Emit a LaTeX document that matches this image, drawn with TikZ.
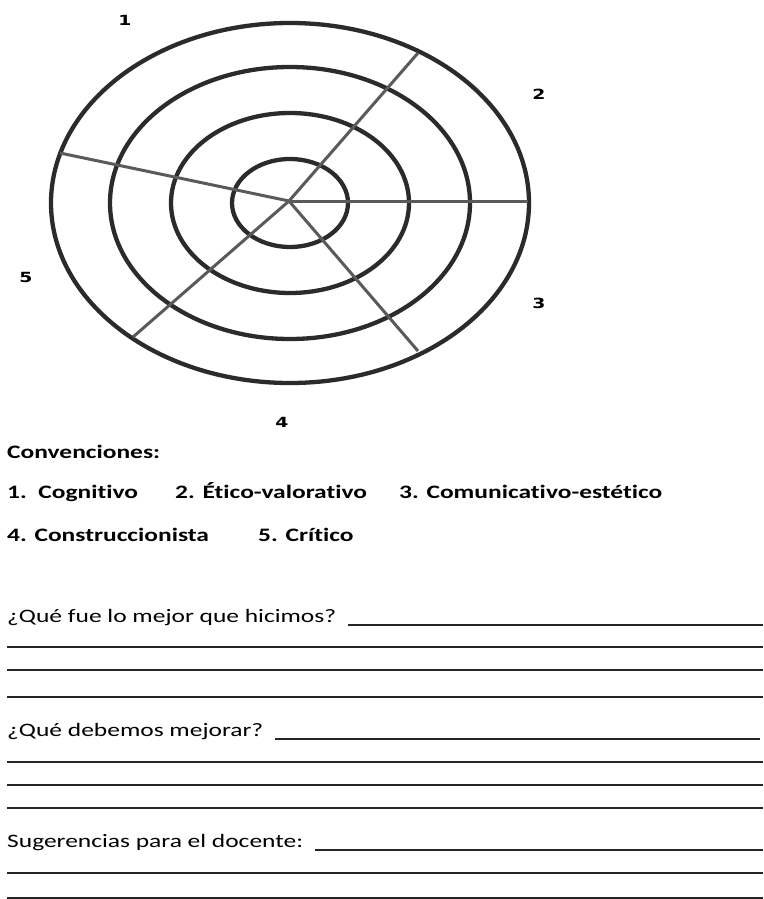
\documentclass[tikz,border=0pt]{standalone}
\usepackage{fontspec}
\setmainfont{Carlito}[FakeStretch=1.34, Ligatures=NoCommon]
\newfontfamily\digitfont{DejaVu Sans}[FakeStretch=1.34]
\usetikzlibrary{positioning}
\definecolor{RingGray}{HTML}{2B2B2B}
\definecolor{SpokeGray}{HTML}{5A5A5A}
\definecolor{RuleGray}{HTML}{262626}

\tikzset{
  ring/.style={draw=RingGray, line width=4.3pt},
  spoke/.style={draw=SpokeGray, line width=3pt},
  axislabel/.style={font=\digitfont\bfseries\fontsize{14}{16}\selectfont, inner sep=0pt},
  legend/.style={font=\bfseries\fontsize{19}{22}\selectfont, anchor=base west, inner sep=0pt},
  question/.style={font=\fontsize{19}{22}\selectfont, anchor=base west, inner sep=0pt},
  rule/.style={draw=RuleGray, line width=1.4pt}
}

\begin{document}
\begin{tikzpicture}[x=1pt, y=-1pt]
    \useasboundingbox (0,0) rectangle (763,899);

    \coordinate (mid) at (290,203);
    \coordinate (hub) at (289,201);
    \foreach \rx/\ry in {58/44, 119/90, 180/136, 239/180}
      \draw[ring] (mid) ellipse [x radius=\rx pt, y radius=\ry pt];

    \coordinate (east) at (528,201);
    \coordinate (northeast) at (418,53);
    \coordinate (northwest) at (60,153);
    \coordinate (southwest) at (133,337);
    \coordinate (southeast) at (418,351);
    \foreach \p in {east, northeast, northwest, southwest, southeast}
      \draw[spoke] (hub) -- (\p);

    \node[axislabel] (lab1) at (125,20) {1};
    \node[axislabel] (lab2) at (539,94) {2};
    \node[axislabel] (lab3) at (539,303) {3};
    \node[axislabel] (lab4) at (282,422) {4};
    \node[axislabel] (lab5) at (26,277) {5};

    \node[legend] (conv) at (7,458) {Convenciones:};
    \node[legend] (leg1) at (7,498) {1.\ \ Cognitivo};
    \node[legend] (leg2) at (175,498) {2. Ético-valorativo};
    \node[legend] (leg3) at (399,498) {3. Comunicativo-estético};
    \node[legend] (leg4) at (7,541.5) {4. Construccionista};
    \node[legend] (leg5) at (258,541.5) {5. Crítico};

    \node[question] (q1) at (7,622) {¿Qué fue lo mejor que hicimos?};
    \draw[rule] (348,625) -- (763,625);
    \foreach \y in {647,670,697}
      \draw[rule] (7,\y) -- (763,\y);

    \node[question] (q2) at (7,736) {¿Qué debemos mejorar?};
    \draw[rule] (275,739) -- (760,739);
    \foreach \y in {762,785,808}
      \draw[rule] (7,\y) -- (763,\y);

    \node[question] (q3) at (7,847) {Sugerencias para el docente:};
    \draw[rule] (315,850) -- (763,850);
    \foreach \y in {873,898}
      \draw[rule] (7,\y) -- (763,\y);
  \end{tikzpicture}
\end{document}
